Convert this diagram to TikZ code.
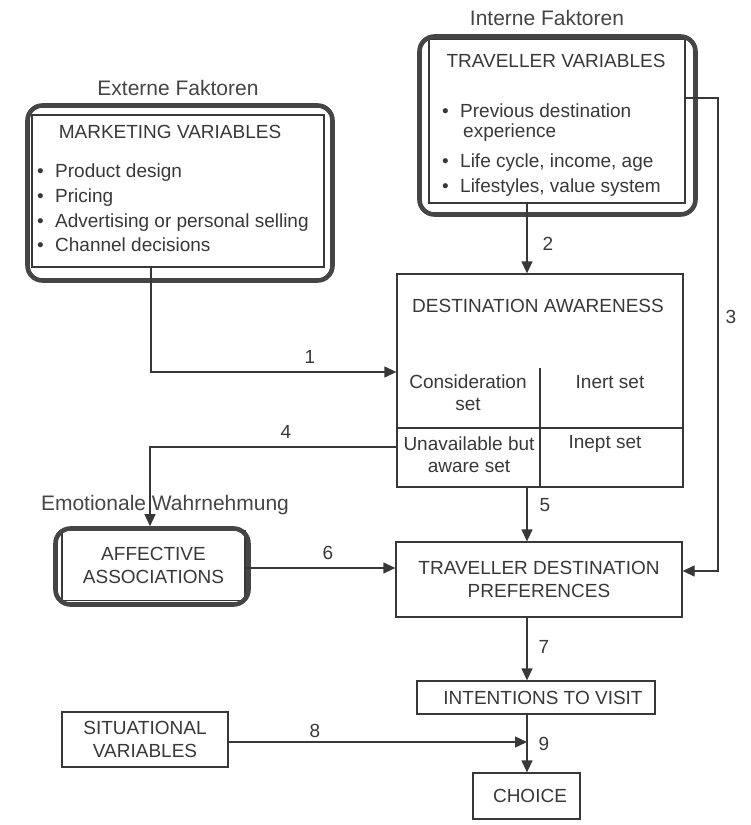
\documentclass[tikz,border=0pt]{standalone}
\usepackage{fontspec}
\setmainfont{Liberation Sans}
\usepackage{tikz}
\usetikzlibrary{arrows.meta,positioning,calc}
\usepackage{xcolor}
\definecolor{ink}{HTML}{383838}
\definecolor{rim}{HTML}{454545}
\tikzset{
  box/.style   = {draw=ink, line width=1.3pt, rectangle, inner sep=0pt,
                  align=center, text=ink},
  frame/.style = {draw=rim, line width=4.6pt, rectangle, rounded corners=15pt,
                  inner sep=0pt},
  txt/.style   = {inner sep=0pt, text=ink},
  note/.style  = {inner sep=0pt, text=rim, font=\fontsize{21}{25}\selectfont},
  sig/.style   = {-{Triangle[length=12pt,width=11pt]}, draw=ink, line width=1.3pt},
  rule/.style  = {draw=ink, line width=1.3pt},
}
\newcommand{\bitem}{\makebox[18pt][l]{\textbullet}}

\begin{document}
\begin{tikzpicture}[x=1pt,y=-1pt,font=\fontsize{19}{22.5}\selectfont]
\useasboundingbox (0,0) rectangle (751,825);
% external factors
\node[note,anchor=base] (extlab) at (178,95) {Externe Faktoren};
\node[box,minimum width=292,minimum height=152] (mkt) at (178,191) {};
\node[frame,minimum width=305,minimum height=175] (mktframe) at (180,193) {};
\node[txt,anchor=base] (mkttitle) at (170,138) {MARKETING VARIABLES};
\node[txt,anchor=base west] (mkt1) at (37,177) {\bitem Product design};
\node[txt,anchor=base west] (mkt2) at (37,202) {\bitem Pricing};
\node[txt,anchor=base west] (mkt3) at (37,227) {\bitem Advertising or personal selling};
\node[txt,anchor=base west] (mkt4) at (37,251) {\bitem Channel decisions};
% internal factors
\node[note,anchor=base] (intlab) at (547,25) {Interne Faktoren};
\node[box,minimum width=256,minimum height=164] (trav) at (557,121) {};
\node[frame,minimum width=276,minimum height=178] (travframe) at (557.5,125.5) {};
\node[txt,anchor=base] (travtitle) at (556,67) {TRAVELLER VARIABLES};
\node[txt,anchor=base west] (trav1) at (442,117) {\bitem Previous destination};
\node[txt,anchor=base west] (trav1b) at (463,137) {experience};
\node[txt,anchor=base west] (trav2) at (442,167) {\bitem Life cycle, income, age};
\node[txt,anchor=base west] (trav3) at (442,192) {\bitem Lifestyles, value system};
% awareness
\node[box,minimum width=286,minimum height=213] (da) at (540,380.5) {};
\node[txt,anchor=base] (datitle) at (538,312) {DESTINATION AWARENESS};
\coordinate (split) at (540,428);
\coordinate (splittop) at (540,368);
\draw[rule] (da.west |- split) -- (da.east |- split);
\draw[rule] (splittop) -- (da.south -| splittop);
\node[txt,anchor=base,align=center] (cons) at (468,388) {Consideration};
\node[txt,anchor=base] (consb) at (468,410) {set};
\node[txt,anchor=base] (inert) at (610,388) {Inert set};
\node[txt,anchor=base] (unav) at (469,450) {Unavailable but};
\node[txt,anchor=base] (unavb) at (469,472) {aware set};
\node[txt,anchor=base] (inept) at (605,448) {Inept set};
% affect
\node[note,anchor=base] (emolab) at (165,510) {Emotionale Wahrnehmung};
\node[box,minimum width=183,minimum height=70] (aff) at (153.5,565.5) {AFFECTIVE\\ASSOCIATIONS};
\node[frame,minimum width=193,minimum height=76] (affframe) at (152,566.5) {};
% lower chain
\node[box,minimum width=286,minimum height=75] (tdp) at (539,579.5) {TRAVELLER DESTINATION\\PREFERENCES};
\node[box,minimum width=238,minimum height=33] (visit) at (536,697.5) {\hspace{14pt}INTENTIONS TO VISIT};
\node[box,minimum width=166,minimum height=55] (sit) at (145,739.5) {SITUATIONAL\\VARIABLES};
\node[box,minimum width=107,minimum height=46] (choice) at (526.5,796) {\hspace{7pt}CHOICE};
% connectors
\coordinate (c1) at (151,372);
\coordinate (c2) at (527,0);
\coordinate (c3) at (718,98);
\coordinate (c3b) at (718,571);
\coordinate (c4) at (150,447);
\coordinate (c6) at (0,568);
\coordinate (c9) at (527,742);
\draw[sig] (mkt.south -| c1) |- (da.west |- c1);
\draw[sig] (trav.south -| c2) -- (da.north -| c2);
\draw[sig] (trav.east |- c3) -- (c3) -- (c3b) -- (tdp.east |- c3b);
\draw[sig] (da.west |- c4) -| (affframe.north -| c4);
\draw[sig] (da.south -| c2) -- (tdp.north -| c2);
\draw[sig] (aff.east |- c6) -- (tdp.west |- c6);
\draw[sig] (tdp.south -| c2) -- (visit.north -| c2);
\draw[sig] (sit.east |- c9) -- (c9);
\draw[sig] (visit.south -| c2) -- (choice.north -| c2);
% numbers
\node[txt,anchor=base] (n1) at (310,363) {1};
\node[txt,anchor=base] (n2) at (548,250) {2};
\node[txt,anchor=base] (n3) at (731,323) {3};
\node[txt,anchor=base] (n4) at (286,438) {4};
\node[txt,anchor=base] (n5) at (545,511) {5};
\node[txt,anchor=base] (n6) at (328,559) {6};
\node[txt,anchor=base] (n7) at (544,653) {7};
\node[txt,anchor=base] (n8) at (315,737) {8};
\node[txt,anchor=base] (n9) at (544,750) {9};
\end{tikzpicture}
\end{document}
